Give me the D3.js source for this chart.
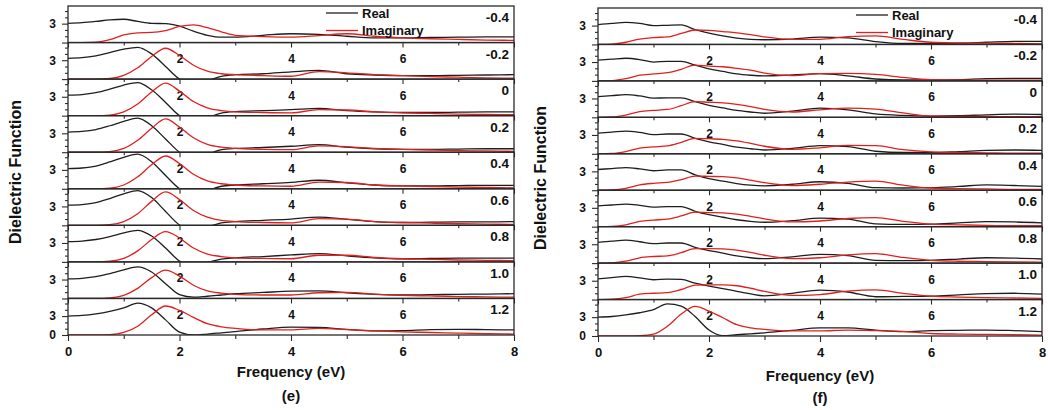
<!DOCTYPE html>
<html>
<head>
<meta charset="utf-8">
<script src="https://cdn.jsdelivr.net/npm/d3@7"></script>
<style>
    body { margin: 0; background: #fff; }
    svg text { font-family: "Liberation Sans", Arial, sans-serif; font-weight: bold; fill: #111; }
</style>
</head>
<body>
<svg id="chart" width="1048" height="410"></svg>
<script>
// photon energy grid (eV)
var energy = [0, 0.25, 0.5, 0.75, 1, 1.25, 1.5, 1.75, 2, 2.25, 2.5, 2.75, 3, 3.5, 4, 4.5, 5, 5.5, 6, 6.5, 7, 7.5, 8];
var dopingLevels = ["-0.4", "-0.2", "0", "0.2", "0.4", "0.6", "0.8", "1.0", "1.2"];
var xTickValues = [0, 2, 4, 6, 8];

// panel (e)
var realE = [
    [3.05, 3.15, 3.35, 3.6, 3.7, 3.35, 3.05, 3.0, 2.6, 1.8, 1.15, 0.85, 0.85, 1.15, 1.4, 1.3, 1.0, 0.75, 0.75, 0.8, 0.85, 0.9, 0.9],
    [3.3, 3.4, 3.7, 4.2, 4.75, 5.05, 4.0, 2.0, 0.0, -1.0, -0.3, 0.45, 0.7, 0.85, 1.15, 1.4, 0.85, 0.65, 0.55, 0.55, 0.6, 0.65, 0.7],
    [3.25, 3.35, 3.65, 4.2, 4.85, 5.25, 4.1, 2.1, 0.0, -1.0, -0.35, 0.4, 0.65, 0.8, 0.95, 1.15, 0.8, 0.6, 0.5, 0.5, 0.55, 0.6, 0.6],
    [3.2, 3.3, 3.6, 4.2, 4.9, 5.4, 4.2, 2.1, 0.0, -1.0, -0.35, 0.4, 0.6, 0.75, 0.95, 1.2, 0.8, 0.55, 0.45, 0.45, 0.5, 0.55, 0.55],
    [3.2, 3.3, 3.6, 4.25, 5.0, 5.5, 4.3, 2.1, 0.0, -1.0, -0.35, 0.4, 0.6, 0.8, 1.0, 1.35, 0.95, 0.6, 0.45, 0.45, 0.5, 0.55, 0.55],
    [3.2, 3.3, 3.6, 4.25, 5.0, 5.5, 4.4, 2.2, 0.05, -0.9, -0.3, 0.4, 0.6, 0.8, 1.0, 1.3, 0.95, 0.6, 0.45, 0.5, 0.55, 0.55, 0.6],
    [3.2, 3.3, 3.55, 4.0, 4.6, 5.0, 4.1, 2.2, 0.15, -0.5, -0.1, 0.45, 0.65, 0.85, 1.1, 1.3, 0.95, 0.65, 0.5, 0.55, 0.6, 0.6, 0.6],
    [3.1, 3.2, 3.45, 3.95, 4.55, 5.0, 4.2, 2.35, 0.6, 0.2, 0.35, 0.55, 0.75, 0.95, 1.15, 1.2, 0.9, 0.65, 0.55, 0.6, 0.65, 0.7, 0.75],
    [3.0, 3.1, 3.35, 3.75, 4.3, 5.05, 4.3, 2.4, 0.45, 0.0, 0.15, 0.35, 0.55, 0.95, 1.25, 1.2, 0.9, 0.65, 0.7, 0.85, 0.9, 0.85, 0.8]
];
var imagE = [
    [0, 0, 0.05, 0.45, 1.2, 1.55, 1.6, 1.9, 2.55, 2.8, 2.35, 1.7, 1.15, 0.95, 0.85, 1.1, 1.4, 1.0, 0.75, 0.6, 0.5, 0.4, 0.35],
    [0, 0, 0, 0.1, 0.6, 1.8, 3.6, 4.9, 3.75, 2.2, 1.25, 0.85, 0.7, 0.55, 0.45, 1.2, 1.0, 0.7, 0.55, 0.4, 0.3, 0.2, 0.15],
    [0, 0, 0, 0.1, 0.6, 1.85, 3.75, 5.15, 3.9, 2.25, 1.25, 0.8, 0.6, 0.5, 0.45, 0.95, 0.9, 0.6, 0.45, 0.35, 0.25, 0.2, 0.15],
    [0, 0, 0, 0.1, 0.6, 1.9, 3.8, 5.3, 4.0, 2.3, 1.25, 0.8, 0.6, 0.45, 0.4, 1.0, 0.9, 0.6, 0.45, 0.35, 0.25, 0.2, 0.15],
    [0, 0, 0, 0.1, 0.6, 1.9, 3.8, 5.2, 4.0, 2.3, 1.25, 0.8, 0.6, 0.45, 0.4, 1.05, 1.0, 0.6, 0.45, 0.35, 0.25, 0.2, 0.15],
    [0, 0, 0, 0.1, 0.6, 1.85, 3.8, 5.3, 4.1, 2.35, 1.3, 0.8, 0.6, 0.45, 0.4, 1.05, 1.0, 0.6, 0.45, 0.35, 0.25, 0.2, 0.15],
    [0, 0, 0, 0.1, 0.55, 1.75, 3.55, 4.8, 3.8, 2.2, 1.25, 0.85, 0.65, 0.55, 0.5, 1.05, 1.05, 0.7, 0.5, 0.4, 0.3, 0.25, 0.2],
    [0, 0, 0, 0.1, 0.5, 1.6, 3.3, 4.5, 3.55, 2.1, 1.2, 0.85, 0.65, 0.55, 0.55, 0.9, 0.95, 0.7, 0.5, 0.4, 0.3, 0.25, 0.2],
    [0, 0, 0, 0.05, 0.4, 1.4, 3.2, 4.6, 3.9, 2.8, 1.8, 1.3, 1.05, 0.8, 0.8, 1.05, 0.85, 0.65, 0.5, 0.4, 0.3, 0.2, 0.15]
];

// panel (f)
var realF = [
    [3.15, 3.35, 3.5, 3.35, 3.0, 3.05, 3.1, 2.35, 1.8, 1.35, 1.0, 0.8, 0.75, 0.85, 1.15, 1.05, 0.45, 0.15, 0.15, 0.2, 0.35, 0.5, 0.5],
    [3.3, 3.45, 3.6, 3.4, 3.0, 3.1, 3.1, 2.5, 1.9, 1.5, 1.1, 0.9, 0.8, 0.95, 1.15, 0.8, 0.3, 0.15, 0.15, 0.2, 0.35, 0.4, 0.4],
    [3.3, 3.45, 3.6, 3.4, 3.05, 3.1, 3.1, 2.5, 1.9, 1.5, 1.1, 0.85, 0.65, 1.0, 1.45, 1.2, 0.55, 0.3, 0.2, 0.25, 0.4, 0.5, 0.45],
    [3.3, 3.45, 3.6, 3.4, 3.05, 3.15, 3.15, 2.45, 1.9, 1.5, 1.05, 0.8, 0.6, 0.85, 1.3, 1.15, 0.4, 0.2, 0.2, 0.35, 0.55, 0.6, 0.55],
    [3.3, 3.45, 3.6, 3.4, 3.1, 3.25, 3.25, 2.45, 1.85, 1.45, 1.05, 0.8, 0.7, 0.95, 1.35, 1.1, 0.4, 0.35, 0.4, 0.6, 0.85, 0.75, 0.6],
    [3.3, 3.45, 3.6, 3.4, 3.1, 3.2, 3.2, 2.45, 1.9, 1.5, 1.1, 0.85, 0.7, 0.95, 1.35, 1.2, 0.45, 0.35, 0.4, 0.6, 0.8, 0.75, 0.6],
    [3.3, 3.5, 3.65, 3.4, 3.1, 3.2, 3.2, 2.5, 2.0, 1.6, 1.15, 0.85, 0.7, 1.0, 1.4, 1.2, 0.45, 0.4, 0.45, 0.65, 0.85, 0.8, 0.65],
    [3.3, 3.5, 3.7, 3.45, 3.15, 3.25, 3.2, 2.6, 2.15, 1.75, 1.3, 0.9, 0.6, 1.0, 1.5, 1.2, 0.45, 0.5, 0.55, 0.75, 0.95, 1.0, 0.85],
    [3.0, 3.1, 3.35, 3.7, 4.2, 5.1, 4.75, 3.1, 0.95, 0.05, 0.2, 0.35, 0.5, 0.9, 1.3, 1.3, 0.95, 0.7, 0.85, 0.9, 0.95, 0.85, 0.7]
];
var imagF = [
    [0, 0.05, 0.35, 0.85, 1.1, 1.2, 1.75, 2.3, 2.25, 2.05, 1.85, 1.55, 1.2, 0.8, 0.8, 1.25, 1.35, 0.8, 0.35, 0.25, 0.2, 0.15, 0.1],
    [0, 0.05, 0.35, 0.9, 1.1, 1.3, 1.85, 2.5, 2.35, 2.25, 2.0, 1.7, 1.25, 0.85, 1.15, 1.2, 1.05, 0.55, 0.2, 0.15, 0.1, 0.1, 0.1],
    [0, 0.05, 0.35, 0.9, 1.1, 1.25, 1.85, 2.5, 2.4, 2.3, 2.05, 1.7, 1.25, 0.85, 1.2, 1.45, 1.3, 0.7, 0.2, 0.15, 0.15, 0.1, 0.1],
    [0, 0.05, 0.35, 0.9, 1.1, 1.25, 1.8, 2.45, 2.4, 2.3, 2.05, 1.65, 1.2, 0.7, 0.95, 1.35, 1.3, 0.65, 0.3, 0.2, 0.15, 0.1, 0.1],
    [0, 0.05, 0.3, 0.85, 1.1, 1.25, 1.7, 2.25, 2.2, 2.15, 1.95, 1.6, 1.2, 0.75, 0.95, 1.3, 1.45, 0.8, 0.35, 0.25, 0.2, 0.15, 0.15],
    [0, 0.05, 0.3, 0.85, 1.05, 1.2, 1.7, 2.3, 2.25, 2.2, 2.0, 1.65, 1.25, 0.75, 0.9, 1.3, 1.45, 0.85, 0.4, 0.3, 0.2, 0.15, 0.15],
    [0, 0.05, 0.3, 0.85, 1.05, 1.15, 1.65, 2.3, 2.3, 2.25, 2.05, 1.7, 1.25, 0.7, 0.85, 1.3, 1.5, 0.9, 0.45, 0.3, 0.25, 0.2, 0.15],
    [0, 0.05, 0.3, 0.85, 1.0, 1.1, 1.6, 2.3, 2.35, 2.35, 2.2, 1.8, 1.3, 0.65, 0.8, 1.35, 1.55, 1.0, 0.55, 0.4, 0.3, 0.25, 0.2],
    [0, 0, 0, 0.05, 0.3, 1.55, 3.5, 4.7, 3.95, 2.9, 1.8, 1.3, 1.05, 0.8, 0.8, 0.95, 0.85, 0.75, 0.4, 0.3, 0.25, 0.2, 0.15]
];

var svg = d3.select('#chart');
var realColour = '#1e1e1e';
var imagColour = '#e31e1e';
var frameColour = '#2a2a2a';

function drawPanel(p) {
    var nRows = dopingLevels.length;
    var rowH = (p.bottom - p.top) / nRows;

    var x = d3.scaleLinear().domain([0, 8]).range([p.left, p.right]);
    var y = d3.scaleLinear().domain([0, 5.8]).range([rowH, 0]);

    var line = d3.line()
        .x(function (d, k) { return x(energy[k]); })
        .y(function (d) { return y(d); })
        .curve(d3.curveMonotoneX);

    var panel = svg.append('g');

    dopingLevels.forEach(function (level, i) {
        var last = i === nRows - 1;
        var row = panel.append('g')
            .attr('transform', 'translate(0,' + (p.top + i * rowH) + ')');

        var clipId = p.name + '-clip-' + i;
        row.append('clipPath')
            .attr('id', clipId)
            .append('rect')
            .attr('x', p.left)
            .attr('y', 0)
            .attr('width', p.right - p.left)
            .attr('height', rowH);

        var curves = row.append('g').attr('clip-path', 'url(#' + clipId + ')');
        curves.append('path')
            .datum(p.real[i])
            .attr('d', line)
            .attr('fill', 'none')
            .attr('stroke', realColour)
            .attr('stroke-width', 1.3);
        curves.append('path')
            .datum(p.imag[i])
            .attr('d', line)
            .attr('fill', 'none')
            .attr('stroke', imagColour)
            .attr('stroke-width', 1.3);

        // y axis: major 0/3, minor every unit
        var yMajor = row.append('g')
            .attr('transform', 'translate(' + p.left + ',0)')
            .call(d3.axisLeft(y).tickValues([0, 3]).tickSize(6).tickPadding(6)
                .tickFormat(function (d) { return (d === 0 && !last) ? '' : d; }));
        var yMinor = row.append('g')
            .attr('transform', 'translate(' + p.left + ',0)')
            .call(d3.axisLeft(y).tickValues([1, 2, 4, 5]).tickSize(3).tickFormat(''));

        // x axis at bottom of each layer, labels fall into the layer below
        var xMajor = row.append('g')
            .attr('transform', 'translate(0,' + rowH + ')')
            .call(d3.axisBottom(x).tickValues(xTickValues).tickSize(last ? 6 : 5).tickPadding(last ? 6 : 7)
                .tickFormat(function (d) { return (last || (d > 0 && d < 8)) ? d : ''; }));
        var xMinor = row.append('g')
            .attr('transform', 'translate(0,' + rowH + ')')
            .call(d3.axisBottom(x).tickValues([1, 3, 5, 7]).tickSize(last ? 4 : 3).tickFormat(''));

        [yMajor, yMinor, xMajor, xMinor].forEach(function (a) {
            a.select('.domain').remove();
            a.selectAll('.tick line').attr('stroke', frameColour).attr('stroke-width', 1.1);
        });
        yMajor.selectAll('text').attr('font-size', 12).attr('fill', '#111');
        xMajor.selectAll('text').attr('font-size', last ? 13 : 12).attr('fill', '#111');

        row.append('rect')
            .attr('x', p.left)
            .attr('y', 0)
            .attr('width', p.right - p.left)
            .attr('height', rowH)
            .attr('fill', 'none')
            .attr('stroke', frameColour)
            .attr('stroke-width', 1.3);

        row.append('text')
            .attr('x', p.right - 5)
            .attr('y', 16)
            .attr('text-anchor', 'end')
            .attr('font-size', 13.5)
            .text(level);
    });

    // legend
    var legend = [{ name: 'Real', colour: realColour }, { name: 'Imaginary', colour: imagColour }];
    legend.forEach(function (s, i) {
        var ly = p.top + 7 + i * 17.5;
        svg.append('line')
            .attr('x1', p.left + 258)
            .attr('x2', p.left + 290)
            .attr('y1', ly)
            .attr('y2', ly)
            .attr('stroke', s.colour)
            .attr('stroke-width', 1.3);
        svg.append('text')
            .attr('x', p.left + 294)
            .attr('y', ly + 4.5)
            .attr('font-size', 13)
            .text(s.name);
    });

    svg.append('text')
        .attr('transform', 'translate(' + p.yTitleX + ',' + p.yTitleY + ') rotate(-90)')
        .attr('text-anchor', 'middle')
        .attr('font-size', 16)
        .text('Dielectric Function');

    svg.append('text')
        .attr('x', (p.left + p.right) / 2)
        .attr('y', p.xTitleY)
        .attr('text-anchor', 'middle')
        .attr('font-size', 15)
        .text('Frequency (eV)');

    svg.append('text')
        .attr('x', (p.left + p.right) / 2)
        .attr('y', p.tagY)
        .attr('text-anchor', 'middle')
        .attr('font-size', 15)
        .text(p.tag);
}

drawPanel({
    name: 'e', left: 68, right: 514, top: 6, bottom: 335,
    real: realE, imag: imagE,
    yTitleX: 21, yTitleY: 172, xTitleY: 377, tag: '(e)', tagY: 401
});

drawPanel({
    name: 'f', left: 598, right: 1042, top: 8, bottom: 336,
    real: realF, imag: imagF,
    yTitleX: 546, yTitleY: 178, xTitleY: 381, tag: '(f)', tagY: 403
});
</script>
</body>
</html>
